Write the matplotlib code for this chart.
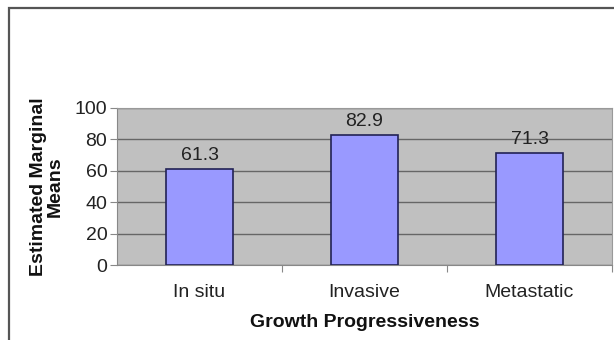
import matplotlib.pyplot as plt
from matplotlib.patches import Rectangle

categories = ["In situ", "Invasive", "Metastatic"]
means = [61.3, 82.9, 71.3]
yticks = [0, 20, 40, 60, 80, 100]

plt.rcParams['font.family'] = ['Liberation Sans', 'DejaVu Sans']

W, H = 614, 340
fig = plt.figure(figsize=(W / 100, H / 100), dpi=100)

# outer frame (top and left edges visible)
fig.patches.append(Rectangle((8.5 / W, -0.1), 1.2, 1.1 - 8.5 / H,
                             transform=fig.transFigure, fill=False,
                             edgecolor='#555555', lw=1.6))

left, right, top, bottom = 117, 612, 108, 265
ax = fig.add_axes([left / W, 1 - bottom / H, (right - left) / W, (bottom - top) / H])
ax.set_facecolor('#C0C0C0')

x = range(len(categories))
bars = ax.bar(x, means, width=0.41, color='#9999FF', edgecolor='#222255', lw=1.2, zorder=3)
for b, v in zip(bars, means):
    ax.text(b.get_x() + b.get_width() / 2, v + 3, f"{v:.1f}", ha='center', va='bottom',
            fontsize=14, color='#222222', zorder=4)

ax.set_xlim(-0.5, len(categories) - 0.5)
ax.set_ylim(0, 100)
ax.set_yticks(yticks)
ax.yaxis.grid(True, color='#666666', lw=1.0, zorder=1)
ax.set_axisbelow(True)

ax.set_xticks([i + 0.5 for i in range(len(categories))])
ax.set_xticklabels([])
ax.set_xticks(list(x), minor=True)
ax.set_xticklabels(categories, minor=True, fontsize=14, color='#222222')
ax.tick_params(axis='x', which='minor', length=0, pad=14)
ax.tick_params(axis='x', which='major', length=5, color='#888888')
ax.tick_params(axis='y', length=5, color='#888888', labelsize=14, pad=2, labelcolor='#222222')

for s in ['left', 'bottom']:
    ax.spines[s].set_color('#888888')
for s in ['top', 'right']:
    ax.spines[s].set_color('#999999')

ax.set_xlabel("Growth Progressiveness", fontsize=14, fontweight='bold', labelpad=9,
              color='#111111')
ax.set_ylabel("Estimated Marginal\nMeans", fontsize=14, fontweight='bold', labelpad=8,
              linespacing=0.95, color='#111111')

fig.savefig("out.png", dpi=100)
